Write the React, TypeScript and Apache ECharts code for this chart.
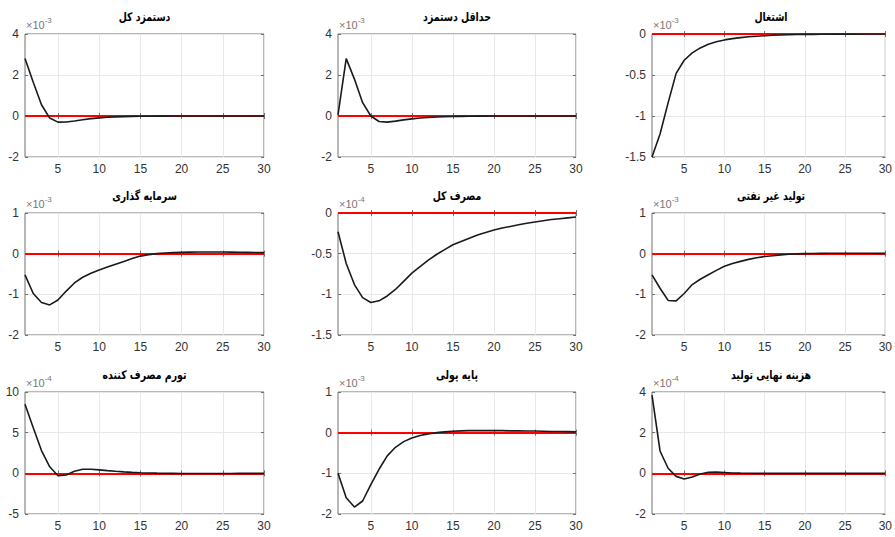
import React, { useEffect, useRef } from "react";
import * as echarts from "echarts";

// ---------- data ----------
const periods = [
  "1", "2", "3", "4", "5", "6", "7", "8", "9", "10",
  "11", "12", "13", "14", "15", "16", "17", "18", "19", "20",
  "21", "22", "23", "24", "25", "26", "27", "28", "29", "30",
];
const xTickLabels = ["5", "10", "15", "20", "25", "30"];

const titles = [
  "دستمزد کل",
  "حداقل دستمزد",
  "اشتغال",
  "سرمایه گذاری",
  "مصرف کل",
  "تولید غیر نفتی",
  "تورم مصرف کننده",
  "پایه پولی",
  "هزینه نهایی تولید",
];
const scaleExponents = ["-3", "-3", "-3", "-3", "-4", "-3", "-4", "-3", "-4"];
const yMins = [-2, -2, -1.5, -2, -1.5, -2, -5, -2, -2];
const yMaxs = [4, 4, 0, 1, 0, 1, 10, 1, 4];
const yIntervals = [2, 2, 0.5, 1, 0.5, 1, 5, 1, 2];

const totalWage = [
  2.8, 1.65, 0.55, -0.1, -0.3, -0.29, -0.24, -0.18, -0.13, -0.09,
  -0.06, -0.045, -0.03, -0.02, -0.015, -0.01, -0.007, -0.005, -0.003, -0.002,
  -0.001, 0, 0, 0, 0, 0, 0, 0, 0, 0,
];
const minimumWage = [
  0.05, 2.8, 1.8, 0.65, 0.0, -0.27, -0.3, -0.25, -0.19, -0.14,
  -0.1, -0.07, -0.05, -0.035, -0.025, -0.017, -0.012, -0.008, -0.005, -0.003,
  -0.002, -0.001, 0, 0, 0, 0, 0, 0, 0, 0,
];
const employment = [
  -1.5, -1.22, -0.84, -0.48, -0.32, -0.23, -0.17, -0.125, -0.095, -0.072,
  -0.056, -0.044, -0.034, -0.027, -0.021, -0.016, -0.012, -0.009, -0.007, -0.005,
  -0.004, -0.003, -0.002, -0.0015, -0.001, -0.001, 0, 0, 0, 0,
];
const investment = [
  -0.52, -0.98, -1.2, -1.26, -1.14, -0.92, -0.72, -0.58, -0.48, -0.4,
  -0.33, -0.26, -0.19, -0.12, -0.06, -0.025, 0.0, 0.015, 0.025, 0.032,
  0.037, 0.04, 0.042, 0.042, 0.04, 0.038, 0.035, 0.032, 0.028, 0.025,
];
const totalConsumption = [
  -0.23, -0.62, -0.88, -1.04, -1.1, -1.08, -1.02, -0.94, -0.84, -0.74,
  -0.66, -0.58, -0.51, -0.45, -0.39, -0.35, -0.31, -0.27, -0.24, -0.21,
  -0.185, -0.165, -0.145, -0.125, -0.11, -0.095, -0.08, -0.07, -0.06, -0.05,
];
const nonOilOutput = [
  -0.52, -0.85, -1.15, -1.16, -0.98, -0.76, -0.63, -0.52, -0.41, -0.31,
  -0.24, -0.19, -0.14, -0.1, -0.07, -0.05, -0.03, -0.015, -0.005, 0.0,
  0.005, 0.008, 0.01, 0.012, 0.012, 0.011, 0.01, 0.009, 0.008, 0.006,
];
const consumerInflation = [
  8.5, 5.6, 2.8, 0.8, -0.3, -0.2, 0.25, 0.5, 0.5, 0.42,
  0.33, 0.25, 0.18, 0.12, 0.08, 0.05, 0.02, 0.0, -0.01, -0.02,
  -0.02, -0.02, -0.02, -0.02, -0.015, -0.015, -0.01, -0.01, -0.01, -0.01,
];
const monetaryBase = [
  -1.0, -1.6, -1.83, -1.68, -1.28, -0.9, -0.57, -0.36, -0.22, -0.13,
  -0.07, -0.03, 0.0, 0.02, 0.035, 0.045, 0.05, 0.05, 0.05, 0.05,
  0.05, 0.045, 0.045, 0.04, 0.04, 0.035, 0.03, 0.03, 0.025, 0.02,
];
const marginalCost = [
  3.85, 1.1, 0.25, -0.15, -0.28, -0.18, -0.03, 0.05, 0.06, 0.04,
  0.02, 0.01, 0.005, 0, 0, 0, 0, 0, 0, 0,
  0, 0, 0, 0, 0, 0, 0, 0, 0, 0,
];

const seriesValues = [
  totalWage, minimumWage, employment,
  investment, totalConsumption, nonOilOutput,
  consumerInflation, monetaryBase, marginalCost,
];

// ---------- layout ----------
const colLeft = [25, 338, 652];
const colWidth = [239, 238, 238];
const rowTop = [34, 213, 392];
const rowHeight = [123, 122, 122];

const FRAME = "#707070";
const GRIDLINE = "#e8e8e8";

const showTick = (_i: number, v: any) => xTickLabels.indexOf(String(v)) >= 0;

function buildOption() {
  const grid: any[] = [];
  const xAxis: any[] = [];
  const yAxis: any[] = [];
  const series: any[] = [];
  const graphic: any[] = [];

  for (let k = 0; k < 9; k++) {
    const r = Math.floor(k / 3);
    const c = k % 3;
    grid.push({
      left: colLeft[c],
      top: rowTop[r],
      width: colWidth[c],
      height: rowHeight[r],
      show: true,
      borderColor: FRAME,
      borderWidth: 1,
      backgroundColor: "#fff",
      containLabel: false,
    });
    xAxis.push({
      type: "category",
      gridIndex: k,
      position: "bottom",
      data: periods,
      boundaryGap: false,
      axisLine: { show: false },
      axisTick: { show: true, inside: true, length: 3, interval: showTick, lineStyle: { color: FRAME } },
      axisLabel: {
        interval: showTick,
        margin: 6,
        fontSize: 12,
        fontFamily: "Liberation Sans",
        color: "#333",
      },
      splitLine: { show: true, interval: showTick, lineStyle: { color: GRIDLINE, width: 1 } },
    });
    xAxis.push({
      type: "category",
      gridIndex: k,
      position: "top",
      data: periods,
      boundaryGap: false,
      axisLine: { show: false },
      axisTick: { show: true, inside: true, length: 3, interval: showTick, lineStyle: { color: FRAME } },
      axisLabel: { show: false },
      splitLine: { show: false },
    });
    yAxis.push({
      type: "value",
      gridIndex: k,
      position: "left",
      min: yMins[k],
      max: yMaxs[k],
      interval: yIntervals[k],
      axisLine: { show: false },
      axisTick: { show: true, inside: true, length: 3, lineStyle: { color: FRAME } },
      axisLabel: {
        margin: 6,
        fontSize: 12,
        fontFamily: "Liberation Sans",
        color: "#333",
      },
      splitLine: { show: true, lineStyle: { color: GRIDLINE, width: 1 } },
      name: `{b|×10}{s|${scaleExponents[k]}}`,
      nameLocation: "end",
      nameGap: 4,
      nameTextStyle: {
        align: "left",
        verticalAlign: "bottom",
        padding: [0, 0, 0, 1],
        rich: {
          b: { fontSize: 11, fontFamily: "Liberation Sans", color: "#777", lineHeight: 14, verticalAlign: "bottom" },
          s: { fontSize: 8, fontFamily: "Liberation Sans", color: "#777", lineHeight: 14, verticalAlign: "top", padding: [0, 0, 6, 0] },
        },
      },
    });
    yAxis.push({
      type: "value",
      gridIndex: k,
      position: "right",
      min: yMins[k],
      max: yMaxs[k],
      interval: yIntervals[k],
      axisLine: { show: false },
      axisTick: { show: true, inside: true, length: 3, lineStyle: { color: FRAME } },
      axisLabel: { show: false },
      splitLine: { show: false },
    });
    series.push({
      type: "line",
      xAxisIndex: 2 * k,
      yAxisIndex: 2 * k,
      data: seriesValues[k],
      showSymbol: false,
      symbol: "none",
      smooth: false,
      lineStyle: { color: "#1a1a1a", width: 1.6 },
      z: 3,
      markLine: {
        silent: true,
        symbol: "none",
        label: { show: false },
        lineStyle: { color: "#ff0000", type: "solid", width: 1.8 },
        data: [{ yAxis: 0 }],
        z: 2,
      },
    });
    const cx = colLeft[c] + colWidth[c] / 2;
    graphic.push({
      type: "text",
      x: cx,
      y: rowTop[r] - 17,
      scaleX: 0.78,
      style: {
        text: `{t|${titles[k]}}`,
        rich: {
          t: {
            fontSize: 12,
            fontWeight: "bold",
            fontFamily: "DejaVu Sans",
            color: "#000",
          },
        },
        align: "center",
        verticalAlign: "middle",
        textAlign: "center",
        textVerticalAlign: "middle",
      },
    });
  }

  return {
    animation: false,
    backgroundColor: "#ffffff",
    grid,
    xAxis,
    yAxis,
    series,
    graphic,
  };
}

export default function App() {
  const ref = useRef<HTMLDivElement>(null);
  useEffect(() => {
    if (!ref.current) return;
    const chart = echarts.init(ref.current, undefined, { renderer: "svg" });
    chart.setOption(buildOption() as any);
    return () => chart.dispose();
  }, []);
  return (
    <div
      ref={ref}
      style={{ position: "absolute", left: 0, top: 0, width: 895, height: 537, background: "#fff" }}
    />
  );
}
